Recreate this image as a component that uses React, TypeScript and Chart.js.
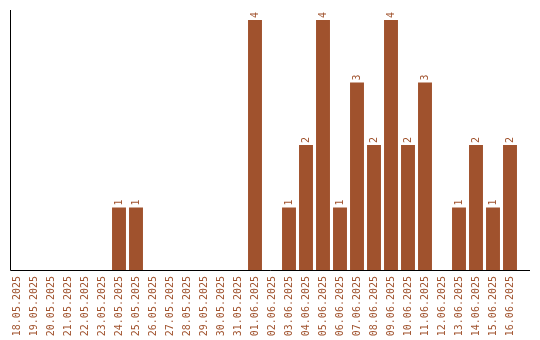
import React, { useEffect, useRef } from "react";
import { Chart, registerables } from "chart.js";

Chart.register(...registerables);

const dates: string[] = [
  "18.05.2025", "19.05.2025", "20.05.2025", "21.05.2025", "22.05.2025",
  "23.05.2025", "24.05.2025", "25.05.2025", "26.05.2025", "27.05.2025",
  "28.05.2025", "29.05.2025", "30.05.2025", "31.05.2025", "01.06.2025",
  "02.06.2025", "03.06.2025", "04.06.2025", "05.06.2025", "06.06.2025",
  "07.06.2025", "08.06.2025", "09.06.2025", "10.06.2025", "11.06.2025",
  "12.06.2025", "13.06.2025", "14.06.2025", "15.06.2025", "16.06.2025",
];

const counts: number[] = [
  0, 0, 0, 0, 0,
  0, 1, 1, 0, 0,
  0, 0, 0, 0, 4,
  0, 1, 2, 4, 1,
  3, 2, 4, 2, 3,
  0, 1, 2, 1, 2,
];

const COLOR = "#a0522d";
const FONT = "'DejaVu Sans Mono', 'Liberation Mono', monospace";

const axisLines = {
  id: "axisLines",
  afterDatasetsDraw(chart: any) {
    const { ctx, chartArea } = chart;
    const x0 = Math.round(chartArea.left) + 1.5;
    const y0 = Math.round(chartArea.bottom) + 0.5;
    ctx.save();
    ctx.strokeStyle = "#000";
    ctx.lineWidth = 1;
    ctx.beginPath();
    ctx.moveTo(x0, chartArea.top);
    ctx.lineTo(x0, y0);
    ctx.lineTo(chart.width - 10, y0);
    ctx.stroke();
    ctx.restore();
  },
};

const valueLabels = {
  id: "valueLabels",
  afterDatasetsDraw(chart: any) {
    const { ctx } = chart;
    const meta = chart.getDatasetMeta(0);
    const data = chart.data.datasets[0].data as number[];
    ctx.save();
    ctx.fillStyle = COLOR;
    ctx.font = `10px ${FONT}`;
    ctx.textAlign = "left";
    ctx.textBaseline = "middle";
    meta.data.forEach((bar: any, i: number) => {
      const v = data[i];
      if (!v) return;
      ctx.save();
      ctx.translate(bar.x, bar.y - 2);
      ctx.rotate(-Math.PI / 2);
      ctx.fillText(String(v), 0, 0);
      ctx.restore();
    });
    ctx.restore();
  },
};

export default function App() {
  const ref = useRef<HTMLCanvasElement | null>(null);

  useEffect(() => {
    document.body.style.margin = "0";
    if (!ref.current) return;
    const chart = new Chart(ref.current, {
      type: "bar",
      data: {
        labels: dates,
        datasets: [
          {
            data: counts,
            backgroundColor: COLOR,
            borderWidth: 0,
            categoryPercentage: 1,
            barPercentage: 0.82,
          },
        ],
      },
      options: {
        animation: false,
        responsive: false,
        maintainAspectRatio: false,
        layout: { padding: { left: 8.5, right: 21.5, top: 10, bottom: 0 } },
        plugins: {
          legend: { display: false },
          tooltip: { enabled: false },
        },
        scales: {
          x: {
            grid: { display: false, drawTicks: false },
            border: { display: false },
            ticks: {
              color: COLOR,
              font: { family: FONT, size: 10 },
              minRotation: 90,
              maxRotation: 90,
              autoSkip: false,
              padding: 6,
            },
            afterFit(scale: any) {
              scale.height = 70;
            },
          },
          y: {
            display: false,
            min: 0,
            max: 4.16,
          },
        },
      },
      plugins: [axisLines, valueLabels],
    });
    return () => chart.destroy();
  }, []);

  return (
    <div style={{ width: 540, height: 340 }}>
      <canvas ref={ref} width={540} height={340} style={{ display: "block" }} />
    </div>
  );
}
